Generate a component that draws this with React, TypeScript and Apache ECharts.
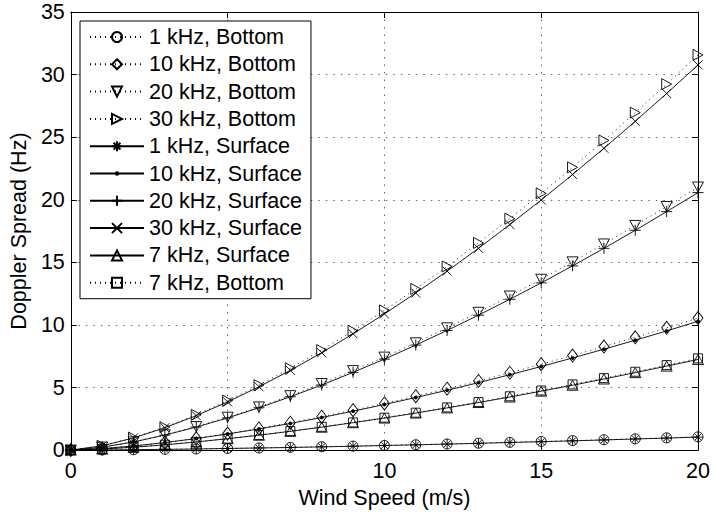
import React, { useEffect, useRef } from "react";
import * as echarts from "echarts";

const windSpeed = [0, 1, 2, 3, 4, 5, 6, 7, 8, 9, 10, 11, 12, 13, 14, 15, 16, 17, 18, 19, 20];

const bottom1k = [0, 0.01, 0.03, 0.06, 0.09, 0.13, 0.17, 0.22, 0.27, 0.32, 0.37, 0.43, 0.49, 0.55, 0.62, 0.69, 0.76, 0.83, 0.9, 0.98, 1.06];
const bottom10k = [0, 0.12, 0.33, 0.61, 0.94, 1.32, 1.73, 2.19, 2.67, 3.19, 3.73, 4.31, 4.91, 5.53, 6.18, 6.86, 7.55, 8.27, 9.01, 9.77, 10.55];
const bottom20k = [0, 0.24, 0.66, 1.22, 1.88, 2.63, 3.45, 4.35, 5.32, 6.35, 7.43, 8.57, 9.77, 11.01, 12.31, 13.65, 15.04, 16.47, 17.95, 19.46, 21.02];
const bottom30k = [0, 0.35, 1.0, 1.83, 2.82, 3.95, 5.19, 6.54, 7.99, 9.53, 11.16, 12.88, 14.67, 16.55, 18.49, 20.51, 22.59, 24.74, 26.96, 29.24, 31.57];
const surface1k = [0, 0.01, 0.03, 0.06, 0.09, 0.13, 0.17, 0.21, 0.26, 0.31, 0.37, 0.42, 0.48, 0.54, 0.61, 0.67, 0.74, 0.81, 0.89, 0.96, 1.04];
const surface10k = [0, 0.12, 0.33, 0.6, 0.92, 1.29, 1.69, 2.13, 2.6, 3.11, 3.64, 4.2, 4.78, 5.39, 6.02, 6.68, 7.36, 8.06, 8.78, 9.52, 10.29];
const surface20k = [0, 0.23, 0.65, 1.2, 1.84, 2.57, 3.38, 4.26, 5.2, 6.21, 7.27, 8.39, 9.56, 10.78, 12.05, 13.36, 14.72, 16.12, 17.56, 19.05, 20.57];
const surface30k = [0, 0.34, 0.97, 1.79, 2.75, 3.85, 5.06, 6.37, 7.78, 9.29, 10.88, 12.55, 14.3, 16.12, 18.02, 19.98, 22.02, 24.11, 26.27, 28.49, 30.77];
const surface7k = [0, 0.08, 0.23, 0.42, 0.65, 0.91, 1.19, 1.5, 1.83, 2.19, 2.56, 2.96, 3.37, 3.8, 4.24, 4.71, 5.18, 5.68, 6.19, 6.71, 7.24];
const bottom7k = [0, 0.08, 0.23, 0.43, 0.66, 0.92, 1.21, 1.52, 1.86, 2.21, 2.59, 2.99, 3.41, 3.84, 4.3, 4.76, 5.25, 5.75, 6.26, 6.79, 7.33];

const seriesNames = [
  "1 kHz, Bottom",
  "10 kHz, Bottom",
  "20 kHz, Bottom",
  "30 kHz, Bottom",
  "1 kHz, Surface",
  "10 kHz, Surface",
  "20 kHz, Surface",
  "30 kHz, Surface",
  "7 kHz, Surface",
  "7 kHz, Bottom",
];

const FONT = "'Liberation Sans', Arial, Helvetica, sans-serif";
const FS = 21.5;

const SYM = {
  circle: "circle",
  diamond: "path://M5,0 L10,6.5 L5,13 L0,6.5 Z",
  down: "path://M0,0 L10,0 L5,8.66 Z",
  right: "path://M0,0 L8.66,5 L0,10 Z",
  asterisk: "path://M5,0 L5,10 M0,5 L10,5 M1.6,1.6 L8.4,8.4 M1.6,8.4 L8.4,1.6",
  dot: "path://M0,0 M12,12 M4.5,6 A1.5,1.5 0 1,0 7.5,6 A1.5,1.5 0 1,0 4.5,6 Z",
  plus: "path://M5,0 L5,10 M0,5 L10,5",
  cross: "path://M0,0 L10,10 M0,10 L10,0",
  up: "path://M5,0 L10,8.66 L0,8.66 Z",
  square: "rect",
};

function makeSeries(
  name: string,
  values: number[],
  symbol: string,
  size: number | number[],
  dotted: boolean,
  filled = false
) {
  return {
    name,
    type: "line",
    data: windSpeed.map((x, i) => [x, values[i]]),
    symbol,
    symbolSize: size,
    showAllSymbol: true,
    lineStyle: {
      color: "#000",
      width: 0.9,
      type: dotted ? [1, 4] : "solid",
    },
    itemStyle: {
      color: filled ? "#000" : "transparent",
      borderColor: "#000",
      borderWidth: 0.9,
    },
    emphasis: { disabled: true },
    z: 2,
  };
}

export default function App() {
  const ref = useRef<HTMLDivElement>(null);

  useEffect(() => {
    if (!ref.current) return;
    const chart = echarts.init(ref.current, undefined, { renderer: "svg" });
    const series = [
      makeSeries(seriesNames[0], bottom1k, SYM.circle, 10, true),
      makeSeries(seriesNames[1], bottom10k, SYM.diamond, [10, 13], true),
      makeSeries(seriesNames[2], bottom20k, SYM.down, [11, 10], true),
      makeSeries(seriesNames[3], bottom30k, SYM.right, [10, 11], true),
      makeSeries(seriesNames[4], surface1k, SYM.asterisk, 10, false),
      makeSeries(seriesNames[5], surface10k, SYM.dot, 12, false, true),
      makeSeries(seriesNames[6], surface20k, SYM.plus, 11, false),
      makeSeries(seriesNames[7], surface30k, SYM.cross, 9, false),
      makeSeries(seriesNames[8], surface7k, SYM.up, [11, 10], false),
      makeSeries(seriesNames[9], bottom7k, SYM.square, 9, true),
    ];
    const axisLabelStyle = { color: "#000", fontSize: FS, fontFamily: FONT };
    chart.setOption({
      animation: false,
      backgroundColor: "#fff",
      textStyle: { fontFamily: FONT },
      grid: { left: 70, right: 15, top: 12, bottom: 60, containLabel: false },
      legend: {
        show: true,
        orient: "vertical",
        left: 80,
        top: 21,
        data: seriesNames,
        itemWidth: 54,
        itemHeight: 12.5,
        itemGap: 5.3,
        padding: [5, 9, 5, 9],
        backgroundColor: "#fff",
        borderColor: "#000",
        borderWidth: 1,
        textStyle: { color: "#000", fontSize: FS, fontFamily: FONT },
        selectedMode: false,
      },
      xAxis: [
        {
          type: "value",
          min: 0,
          max: 20,
          interval: 5,
          name: "Wind Speed (m/s)",
          nameLocation: "middle",
          nameGap: 33,
          nameTextStyle: { color: "#000", fontSize: FS, fontFamily: FONT },
          axisLine: { show: true, onZero: false, lineStyle: { color: "#000", width: 1 } },
          axisTick: { show: true, inside: true, length: 6, lineStyle: { color: "#000" } },
          axisLabel: { ...axisLabelStyle, margin: 10 },
          splitLine: { show: true, lineStyle: { color: "#666", width: 1, type: [1.5, 6] } },
        },
        {
          type: "value",
          position: "top",
          min: 0,
          max: 20,
          interval: 5,
          axisLine: { show: true, onZero: false, lineStyle: { color: "#000", width: 1 } },
          axisTick: { show: true, inside: true, length: 6, lineStyle: { color: "#000" } },
          axisLabel: { show: false },
          splitLine: { show: false },
        },
      ],
      yAxis: [
        {
          type: "value",
          min: 0,
          max: 35,
          interval: 5,
          name: "Doppler Spread (Hz)",
          nameLocation: "middle",
          nameGap: 38,
          nameTextStyle: { color: "#000", fontSize: FS, fontFamily: FONT },
          axisLine: { show: true, onZero: false, lineStyle: { color: "#000", width: 1 } },
          axisTick: { show: true, inside: true, length: 6, lineStyle: { color: "#000" } },
          axisLabel: { ...axisLabelStyle, margin: 6 },
          splitLine: { show: true, lineStyle: { color: "#666", width: 1, type: [1.5, 6] } },
        },
        {
          type: "value",
          position: "right",
          min: 0,
          max: 35,
          interval: 5,
          axisLine: { show: true, onZero: false, lineStyle: { color: "#000", width: 1 } },
          axisTick: { show: true, inside: true, length: 6, lineStyle: { color: "#000" } },
          axisLabel: { show: false },
          splitLine: { show: false },
        },
      ],
      series,
    });
    return () => chart.dispose();
  }, []);

  return (
    <div
      ref={ref}
      style={{ position: "absolute", left: 0, top: 0, width: 713, height: 514 }}
    />
  );
}
